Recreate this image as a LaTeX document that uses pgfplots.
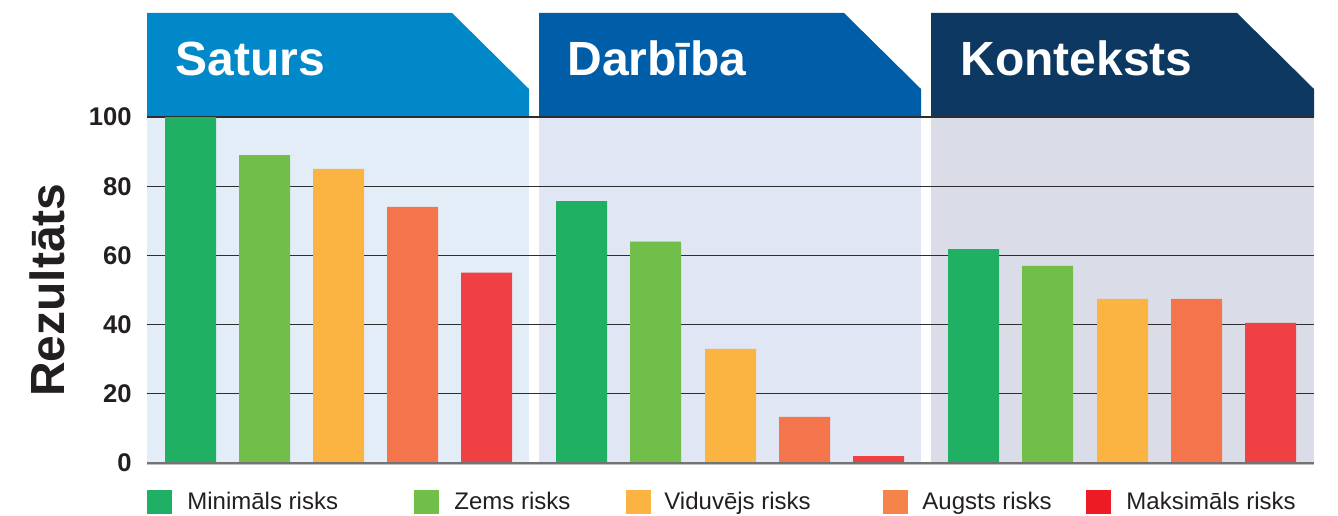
\documentclass[border=0pt]{standalone}
\usepackage{fontspec}
\setmainfont{Liberation Sans}
\usepackage{pgfplots}
\pgfplotsset{compat=1.18}
\definecolor{tabA}{HTML}{0088C9}
\definecolor{tabB}{HTML}{005DA8}
\definecolor{tabC}{HTML}{0C3862}
\definecolor{bgA}{HTML}{E3EDF7}
\definecolor{bgB}{HTML}{E0E6F3}
\definecolor{bgC}{HTML}{DADDE7}
\definecolor{cgreen}{HTML}{1FB064}
\definecolor{clgreen}{HTML}{72BE4B}
\definecolor{corange}{HTML}{FBB441}
\definecolor{ccoral}{HTML}{F4754B}
\definecolor{cred}{HTML}{EF4044}
\definecolor{lcoral}{HTML}{F6844A}
\definecolor{lred}{HTML}{ED1C24}
\definecolor{txt}{HTML}{231F20}
\begin{document}
\begin{tikzpicture}
\begin{scope}[x=0.5pt,y=0.5pt]
\path[use as bounding box] (0,0) rectangle (1338,515);
% panel backgrounds
\fill[bgA] (147,52) rectangle (529,398);
\fill[bgB] (539,52) rectangle (921,398);
\fill[bgC] (931,52) rectangle (1314,398);
% header tabs
\fill[tabA] (147,398) -- (147,502) -- (452,502) -- (529,426) -- (529,398) -- cycle;
\fill[tabB] (539,398) -- (539,502) -- (844,502) -- (921,426) -- (921,398) -- cycle;
\fill[tabC] (931,398) -- (931,502) -- (1237,502) -- (1314,426) -- (1314,398) -- cycle;
\node[anchor=base west, inner sep=0pt, text=white, font=\fontsize{24}{28}\selectfont\bfseries] at (175,439) {Saturs};
\node[anchor=base west, inner sep=0pt, text=white, font=\fontsize{24}{28}\selectfont\bfseries] at (567,439) {Darbība};
\node[anchor=base west, inner sep=0pt, text=white, font=\fontsize{24}{28}\selectfont\bfseries] at (960,439) {Konteksts};
% legend
\fill[cgreen] (147,1) rectangle (172,25);
\fill[clgreen] (414,1) rectangle (439,25);
\fill[corange] (626,1) rectangle (651,25);
\fill[lcoral] (883,1) rectangle (908,25);
\fill[lred] (1086,1) rectangle (1111,25);
\node[anchor=base west, inner sep=0pt, text=txt, font=\fontsize{12}{14}\selectfont] at (187,5.5) {Minimāls risks};
\node[anchor=base west, inner sep=0pt, text=txt, font=\fontsize{12}{14}\selectfont] at (454,5.5) {Zems risks};
\node[anchor=base west, inner sep=0pt, text=txt, font=\fontsize{12}{14}\selectfont] at (664,5.5) {Viduvējs risks};
\node[anchor=base west, inner sep=0pt, text=txt, font=\fontsize{12}{14}\selectfont] at (922,5.5) {Augsts risks};
\node[anchor=base west, inner sep=0pt, text=txt, font=\fontsize{12}{14}\selectfont] at (1126,5.5) {Maksimāls risks};
\end{scope}
\begin{axis}[
  at={(73.5pt,26pt)}, anchor=south west,
  scale only axis, width=583.5pt, height=173pt,
  xmin=147, xmax=1314, ymin=0, ymax=100,
  xtick=\empty, ytick={0,20,40,60,80,100},
  ymajorgrids,
  major grid style={draw=black!82, line width=0.65pt},
  axis line style={draw=none},
  major tick length=0pt,
  /pgf/number format/assume math mode=true,
  yticklabel style={anchor=east, inner sep=0pt, xshift=-7.5pt, text=txt, font=\fontsize{12.8}{14}\selectfont\bfseries},
  ylabel={Rezultāts},
  every axis y label/.style={at={(axis description cs:-0.0703,0.5)}, rotate=90, anchor=base, inner sep=0pt, text=txt, font=\fontsize{24}{28}\selectfont\bfseries},
  clip=false,
]
\addplot[ybar, bar width=25.5pt, bar shift=0pt, fill=cgreen, draw=none] coordinates {(190.5,100) (581.5,75.7) (973.5,61.8)};
\addplot[ybar, bar width=25.5pt, bar shift=0pt, fill=clgreen, draw=none] coordinates {(264.5,89) (655.5,64) (1047.5,57)};
\addplot[ybar, bar width=25.5pt, bar shift=0pt, fill=corange, draw=none] coordinates {(338.5,85) (730.5,33) (1122.5,47.4)};
\addplot[ybar, bar width=25.5pt, bar shift=0pt, fill=ccoral, draw=none] coordinates {(412.5,74) (804.5,13.3) (1196.5,47.4)};
\addplot[ybar, bar width=25.5pt, bar shift=0pt, fill=cred, draw=none] coordinates {(486.5,55) (878.5,2) (1270.5,40.5)};
\draw[black!55, line width=0.7pt] (axis cs:147,0) -- (axis cs:1314,0);
\draw[black!25, line width=0.6pt] ([yshift=-0.6pt]axis cs:147,0) -- ([yshift=-0.6pt]axis cs:1314,0);
\end{axis}
\end{tikzpicture}
\end{document}
